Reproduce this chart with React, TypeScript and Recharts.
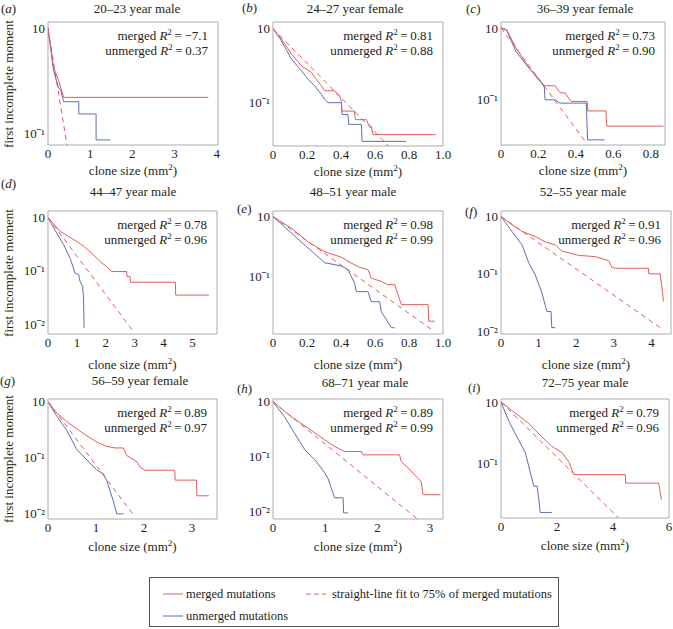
import React from "react";
import { LineChart, Line, XAxis, YAxis, ReferenceArea } from "recharts";

type Pt = [number, number];

const RED = "#e35d5b";
const BLUE = "#5f6eb4";
const FRAME = "#ababab";
const INK = "#231f20";
const FONT = "Liberation Serif, Tinos, Times New Roman, Times, Nimbus Roman, FreeSerif, serif";

// panel text
const letters = ["a", "b", "c", "d", "e", "f", "g", "h", "i"];
const titles = [
  "20–23 year male",
  "24–27 year female",
  "36–39 year female",
  "44–47 year male",
  "48–51 year male",
  "52–55 year male",
  "56–59 year female",
  "68–71 year male",
  "72–75 year male",
];
const mergedR2 = ["−7.1", "0.81", "0.73", "0.78", "0.98", "0.91", "0.89", "0.89", "0.79"];
const unmergedR2 = ["0.37", "0.88", "0.90", "0.96", "0.99", "0.96", "0.97", "0.99", "0.96"];

// axes
const xDomains: Pt[] = [[0, 4.03], [0, 1.0], [0, 0.875], [0, 5.85], [0, 1.0], [0, 4.52], [0, 3.52], [0, 3.25], [0, 6]];
const xTicks = [
  [0, 1, 2, 3, 4],
  [0, 0.2, 0.4, 0.6, 0.8, 1.0],
  [0, 0.2, 0.4, 0.6, 0.8],
  [0, 1, 2, 3, 4, 5],
  [0, 0.2, 0.4, 0.6, 0.8, 1.0],
  [0, 1, 2, 3, 4],
  [0, 1, 2, 3],
  [0, 1, 2, 3],
  [0, 2, 4, 6],
];
const yDomains: Pt[] = [
  [0.0774, 1.15], [0.026, 1.23], [0.0235, 1.21],
  [0.0065, 1.33], [0.011, 1.24], [0.0089, 1.25],
  [0.0081, 1.12], [0.0072, 1.12], [0.013, 1.12],
];
const yTicks = [
  [1, 0.1], [1, 0.1], [1, 0.1],
  [1, 0.1, 0.01], [1, 0.1], [1, 0.1, 0.01],
  [1, 0.1, 0.01], [1, 0.1, 0.01], [1, 0.1],
];

// (a) 20-23 male
const aMerged: Pt[] = [[0, 1], [0.13, 0.43], [0.25, 0.32], [0.33, 0.25], [0.37, 0.22], [3.8, 0.22]];
const aUnmerged: Pt[] = [[0, 1], [0.13, 0.4], [0.25, 0.27], [0.3, 0.26], [0.37, 0.2], [0.73, 0.2], [0.73, 0.153], [1.14, 0.153], [1.14, 0.0865], [1.48, 0.0865]];
const aFit: Pt[] = [[0, 1], [0.45, 0.077]];

// (b) 24-27 female
const bMerged: Pt[] = [[0, 1], [0.049, 0.73], [0.108, 0.457], [0.167, 0.316], [0.225, 0.257], [0.284, 0.169], [0.304, 0.145], [0.363, 0.145], [0.392, 0.123], [0.402, 0.105], [0.406, 0.077], [0.48, 0.077], [0.484, 0.059], [0.549, 0.059], [0.559, 0.052], [0.578, 0.048], [0.588, 0.037], [0.957, 0.037]];
const bUnmerged: Pt[] = [[0, 1], [0.049, 0.69], [0.108, 0.39], [0.167, 0.27], [0.206, 0.208], [0.245, 0.169], [0.284, 0.13], [0.304, 0.111], [0.324, 0.1], [0.402, 0.1], [0.406, 0.069], [0.441, 0.069], [0.445, 0.051], [0.52, 0.051], [0.524, 0.03], [0.784, 0.03]];
const bFit: Pt[] = [[0, 1], [0.68, 0.026]];

// (c) 36-39 female
const cMerged: Pt[] = [[0, 1], [0.03, 0.95], [0.08, 0.53], [0.146, 0.29], [0.199, 0.19], [0.235, 0.157], [0.288, 0.157], [0.315, 0.126], [0.342, 0.124], [0.374, 0.095], [0.46, 0.095], [0.463, 0.07], [0.56, 0.07], [0.564, 0.043], [0.867, 0.043]];
const cUnmerged: Pt[] = [[0, 1], [0.03, 0.93], [0.08, 0.47], [0.149, 0.277], [0.199, 0.2], [0.231, 0.15], [0.235, 0.1], [0.288, 0.1], [0.315, 0.09], [0.455, 0.09], [0.462, 0.0277], [0.552, 0.0277]];
const cFit: Pt[] = [[0, 1], [0.457, 0.0248]];

// (d) 44-47 male
const dMerged: Pt[] = [[0, 1], [0.425, 0.55], [1.0, 0.355], [1.23, 0.29], [1.57, 0.2], [1.8, 0.15], [2.03, 0.12], [2.2, 0.097], [2.72, 0.097], [2.74, 0.078], [2.84, 0.078], [2.86, 0.061], [4.41, 0.061], [4.42, 0.035], [5.57, 0.035]];
const dUnmerged: Pt[] = [[0, 1], [0.31, 0.5], [0.54, 0.31], [0.77, 0.17], [0.94, 0.09], [1.06, 0.085], [1.11, 0.063], [1.2, 0.051], [1.23, 0.03], [1.25, 0.0085]];
const dFit: Pt[] = [[0, 1], [2.95, 0.0073]];

// (e) 48-51 male
const eMerged: Pt[] = [[0, 1], [0.108, 0.64], [0.206, 0.38], [0.304, 0.26], [0.402, 0.21], [0.441, 0.18], [0.5, 0.146], [0.559, 0.13], [0.578, 0.094], [0.637, 0.083], [0.676, 0.073], [0.716, 0.073], [0.755, 0.034], [0.912, 0.034], [0.916, 0.018], [0.951, 0.018]];
const eUnmerged: Pt[] = [[0, 1], [0.108, 0.53], [0.206, 0.3], [0.304, 0.17], [0.402, 0.15], [0.441, 0.13], [0.48, 0.077], [0.49, 0.056], [0.559, 0.056], [0.578, 0.038], [0.627, 0.038], [0.637, 0.026], [0.696, 0.014], [0.716, 0.014]];
const eFit: Pt[] = [[0, 1], [0.951, 0.012]];

// (f) 52-55 male
const fMerged: Pt[] = [[0, 1], [0.29, 0.72], [0.56, 0.55], [0.91, 0.45], [1.18, 0.36], [1.44, 0.32], [1.62, 0.25], [2.06, 0.21], [2.5, 0.2], [2.86, 0.17], [2.95, 0.13], [3.05, 0.125], [3.92, 0.125], [3.93, 0.1], [4.23, 0.1], [4.27, 0.064], [4.32, 0.033]];
const fUnmerged: Pt[] = [[0, 1], [0.29, 0.55], [0.56, 0.32], [0.73, 0.16], [0.91, 0.096], [1.09, 0.046], [1.22, 0.022], [1.33, 0.022], [1.35, 0.0115], [1.44, 0.0115]];
const fFit: Pt[] = [[0, 1], [4.32, 0.0105]];

// (g) 56-59 female
const gMerged: Pt[] = [[0, 1], [0.19, 0.62], [0.39, 0.44], [0.74, 0.27], [1.02, 0.19], [1.22, 0.16], [1.4, 0.15], [1.57, 0.15], [1.64, 0.11], [1.85, 0.085], [1.91, 0.069], [2.02, 0.06], [2.64, 0.06], [2.65, 0.04], [3.09, 0.04], [3.1, 0.021], [3.35, 0.021]];
const gUnmerged: Pt[] = [[0, 1], [0.19, 0.54], [0.39, 0.31], [0.6, 0.14], [0.81, 0.092], [1.02, 0.06], [1.15, 0.052], [1.22, 0.04], [1.29, 0.026], [1.36, 0.017], [1.43, 0.01], [1.57, 0.01]];
const gFit: Pt[] = [[0, 1], [1.81, 0.0089]];

// (h) 68-71 male
const hMerged: Pt[] = [[0, 1], [0.35, 0.53], [0.67, 0.33], [0.99, 0.2], [1.18, 0.152], [1.37, 0.123], [1.69, 0.123], [1.72, 0.107], [2.42, 0.107], [2.45, 0.081], [2.55, 0.066], [2.64, 0.054], [2.74, 0.043], [2.83, 0.035], [2.87, 0.02], [3.2, 0.02]];
const hUnmerged: Pt[] = [[0, 1], [0.22, 0.53], [0.41, 0.266], [0.61, 0.132], [0.8, 0.087], [0.99, 0.05], [1.05, 0.04], [1.11, 0.027], [1.18, 0.0176], [1.34, 0.0176], [1.35, 0.0093], [1.43, 0.0093]];
const hFit: Pt[] = [[0, 1], [2.76, 0.0072]];

// (i) 72-75 male
const iMerged: Pt[] = [[0, 1], [0.39, 0.73], [0.99, 0.45], [1.46, 0.27], [1.82, 0.19], [2.18, 0.15], [2.42, 0.107], [2.6, 0.066], [4.44, 0.066], [4.45, 0.048], [5.63, 0.048], [5.73, 0.026]];
const iUnmerged: Pt[] = [[0, 1], [0.27, 0.5], [0.63, 0.24], [0.87, 0.15], [1.05, 0.07], [1.17, 0.043], [1.29, 0.043], [1.35, 0.026], [1.4, 0.016], [1.82, 0.016]];
const iFit: Pt[] = [[0, 1], [4.2, 0.013]];

const merged = [aMerged, bMerged, cMerged, dMerged, eMerged, fMerged, gMerged, hMerged, iMerged];
const unmerged = [aUnmerged, bUnmerged, cUnmerged, dUnmerged, eUnmerged, fUnmerged, gUnmerged, hUnmerged, iUnmerged];
const fits = [aFit, bFit, cFit, dFit, eFit, fFit, gFit, hFit, iFit];

// layout: plot frame [left, top, width, height] in page px
const frames = [
  [48, 22, 170, 123], [273, 22, 170, 124], [501, 22, 164, 123],
  [48, 211, 169, 123], [273, 211, 170, 123], [501, 211, 170, 123],
  [48, 399, 169, 120], [273, 399, 170, 120], [501, 399, 168, 119],
];
const titlePos = [[137, 8], [355, 8], [585, 8], [133, 191], [353, 191], [583, 191], [140, 380], [365, 382], [585, 382]];
const letterPos = [[1, 8], [242, 7], [466, 8], [1, 183], [237, 208], [465, 211], [0, 380], [237, 388], [468, 387]];
const xLabelGap = [25, 30, 27];

const toPts = (a: Pt[]) => a.map(([x, y]) => ({ x, y }));
const fmtY = (v: number) => (v >= 1 ? "10" : v >= 0.1 ? "10⁻¹" : "10⁻²");

const abs = (x: number, y: number, extra: React.CSSProperties = {}): React.CSSProperties => ({
  position: "absolute",
  left: x,
  top: y,
  whiteSpace: "nowrap",
  lineHeight: 1,
  ...extra,
});

const supStyle: React.CSSProperties = { fontSize: 9, verticalAlign: 5, lineHeight: 0 };

function Panel({ i }: { i: number }) {
  const [l, t, w, h] = frames[i];
  const padL = 40, padT = 4, padR = 14, padB = 30;
  const xd = xDomains[i];
  const yd = yDomains[i];
  const small = xTicks[i][1] < 1;
  const fmtX = (v: number) => (small ? (v === 0 ? "0" : v.toFixed(1)) : String(v));
  const row = Math.floor(i / 3);
  const tickStyle = { fontSize: 13, fill: INK, fontFamily: FONT };

  return (
    <>
      <div style={{ position: "absolute", left: l - padL, top: t - padT }}>
        <LineChart
          width={w + padL + padR}
          height={h + padT + padB}
          margin={{ top: padT, right: padR, bottom: 0, left: 0 }}
          style={{ fontFamily: FONT }}
        >
          <XAxis
            dataKey="x"
            type="number"
            domain={xd}
            ticks={xTicks[i]}
            allowDataOverflow
            axisLine={false}
            tickLine={false}
            tickSize={2}
            tickMargin={2}
            interval={0}
            height={padB}
            tick={tickStyle}
            tickFormatter={fmtX}
          />
          <YAxis
            type="number"
            scale="log"
            domain={yd}
            ticks={yTicks[i]}
            allowDataOverflow
            axisLine={false}
            tickLine={false}
            tickSize={1}
            tickMargin={2}
            interval={0}
            width={padL}
            tick={tickStyle}
            tickFormatter={fmtY}
          />
          <ReferenceArea
            x1={xd[0]}
            x2={xd[1]}
            y1={yd[0]}
            y2={yd[1]}
            fill="none"
            stroke={FRAME}
            strokeWidth={1}
            ifOverflow="visible"
          />
          <Line data={toPts(fits[i])} dataKey="y" type="linear" stroke={RED} strokeWidth={1} strokeDasharray="5 4" dot={false} activeDot={false} isAnimationActive={false} />
          <Line data={toPts(unmerged[i])} dataKey="y" type="linear" stroke={BLUE} strokeWidth={1} dot={false} activeDot={false} isAnimationActive={false} />
          <Line data={toPts(merged[i])} dataKey="y" type="linear" stroke={RED} strokeWidth={1} dot={false} activeDot={false} isAnimationActive={false} />
        </LineChart>
      </div>

      <div style={abs(titlePos[i][0], titlePos[i][1], { transform: "translate(-50%,-50%)", fontSize: 13 })}>
        {titles[i]}
      </div>
      <div style={abs(letterPos[i][0], letterPos[i][1], { transform: "translateY(-50%)", fontSize: 13 })}>
        (<i>{letters[i]}</i>)
      </div>
      <div style={abs(l + w - 10, t + 13, { transform: "translate(-100%,-50%)", fontSize: 13 })}>
        merged <i>R</i>
        <sup style={supStyle}>2</sup>
        {"\u2009=\u2009"}
        {mergedR2[i]}
      </div>
      <div style={abs(l + w - 10, t + 28, { transform: "translate(-100%,-50%)", fontSize: 13 })}>
        unmerged <i>R</i>
        <sup style={supStyle}>2</sup>
        {"\u2009=\u2009"}
        {unmergedR2[i]}
      </div>
      <div style={abs(l + w / 2, t + h + xLabelGap[row], { transform: "translate(-50%,-50%)", fontSize: 13 })}>
        clone size (mm<sup style={supStyle}>2</sup>)
      </div>
      {i % 3 === 0 && (
        <div style={abs(8, t + h / 2, { transform: "translate(-50%,-50%) rotate(-90deg)", fontSize: 13 })}>
          first incomplete moment
        </div>
      )}
    </>
  );
}

function Legend() {
  const sample = (color: string, dashed: boolean) => (
    <svg width={20} height={4} style={{ position: "absolute" }}>
      <line x1={0} y1={2} x2={20} y2={2} stroke={color} strokeWidth={1} strokeDasharray={dashed ? "5 3" : undefined} />
    </svg>
  );
  return (
    <div style={{ position: "absolute", left: 149, top: 577, width: 410, height: 50, border: "1px solid #555", boxSizing: "border-box", fontSize: 12.5 }}>
      <div style={abs(13, 14)}>{sample(RED, false)}</div>
      <div style={abs(36, 16, { transform: "translateY(-50%)" })}>merged mutations</div>
      <div style={abs(13, 36)}>{sample(BLUE, false)}</div>
      <div style={abs(36, 38, { transform: "translateY(-50%)" })}>unmerged mutations</div>
      <div style={abs(156, 14)}>{sample(RED, true)}</div>
      <div style={abs(182, 16, { transform: "translateY(-50%)" })}>straight-line fit to 75% of merged mutations</div>
    </div>
  );
}

export default function App() {
  return (
    <div
      style={{
        position: "absolute",
        left: 0,
        top: 0,
        width: 673,
        height: 629,
        background: "#fff",
        color: INK,
        fontFamily: FONT,
        overflow: "hidden",
      }}
    >
      {titles.map((_, i) => (
        <Panel key={i} i={i} />
      ))}
      <Legend />
    </div>
  );
}
